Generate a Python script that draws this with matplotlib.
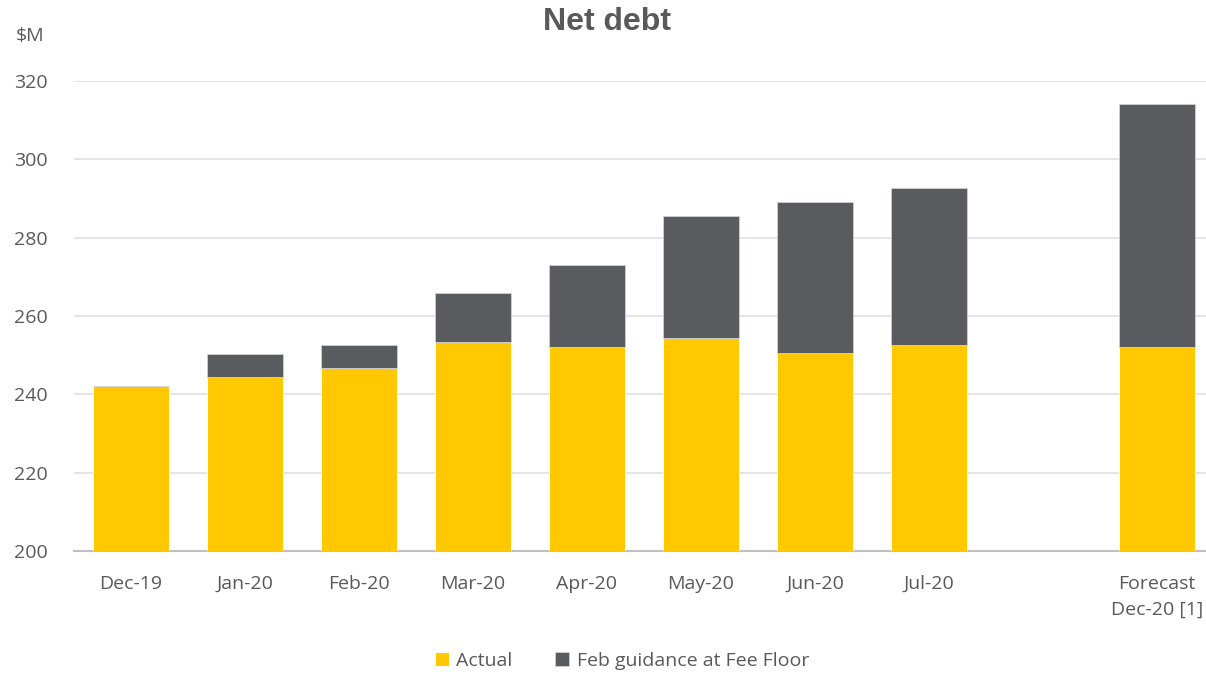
import numpy as np
import matplotlib.pyplot as plt

categories = ['Dec-19', 'Jan-20', 'Feb-20', 'Mar-20', 'Apr-20', 'May-20',
              'Jun-20', 'Jul-20', '', 'Forecast\nDec-20 [1]']
actual = [242.1, 244.5, 246.8, 253.4, 252.1, 254.4, 250.5, 252.7, 0, 252.1]
guidance_total = [242.1, 250.4, 252.7, 265.9, 273.0, 285.5, 289.0, 292.7, 0, 314.1]
yticks = [200, 220, 240, 260, 280, 300, 320]

plt.rcParams['font.family'] = ['Open Sans', 'DejaVu Sans']

actual = np.array(actual)
extra = np.array(guidance_total) - actual
x = np.arange(len(categories))

fig = plt.figure(figsize=(12.06, 6.75), dpi=100)
ax = fig.add_axes([74 / 1206, 124 / 675, 1140 / 1206, 470 / 675])

yellow = '#FFC800'
grey = '#5A5B5E'
text_col = '#595959'

# the blank slot has no bars
mask = actual > 0
ax.bar(x[mask], actual[mask] - 200, bottom=200, width=0.67, color=yellow,
       edgecolor='white', linewidth=0.6, label='Actual', zorder=3)
ax.bar(x[mask], extra[mask], bottom=actual[mask], width=0.67, color=grey,
       edgecolor='#d0d0d0', linewidth=0.6, label='Feb guidance at Fee Floor', zorder=3)

ax.set_ylim(200, 320)
ax.set_xlim(-0.5, 9.5)
ax.set_yticks(yticks)
ax.set_xticks(x)
ax.set_xticklabels(categories, linespacing=1.55)
ax.tick_params(axis='both', length=0, labelsize=14, colors=text_col)
ax.tick_params(axis='y', pad=19)
ax.tick_params(axis='x', pad=17)

ax.grid(axis='y', color='#E3E3E3', linewidth=1.3, zorder=0)
for s in ['top', 'right', 'left']:
    ax.spines[s].set_visible(False)
ax.spines['bottom'].set_color('#BFBFBF')
ax.spines['bottom'].set_linewidth(1.5)

fig.text(607 / 1206, 1 - 22 / 675, 'Net debt', ha='center', va='center',
         fontsize=23, fontweight='bold', color=text_col,
         family=['Liberation Sans', 'DejaVu Sans'])
fig.text(16 / 1206, 1 - 36 / 675, '$M', ha='left', va='center',
         fontsize=14, color=text_col)

fig.legend(loc='center', bbox_to_anchor=(622 / 1206, 1 - 661 / 675), ncol=2,
           frameon=False, fontsize=14, labelcolor=text_col, handlelength=0.7,
           handleheight=0.7, handletextpad=0.4, columnspacing=2.2)

fig.savefig('out.png', dpi=100)
